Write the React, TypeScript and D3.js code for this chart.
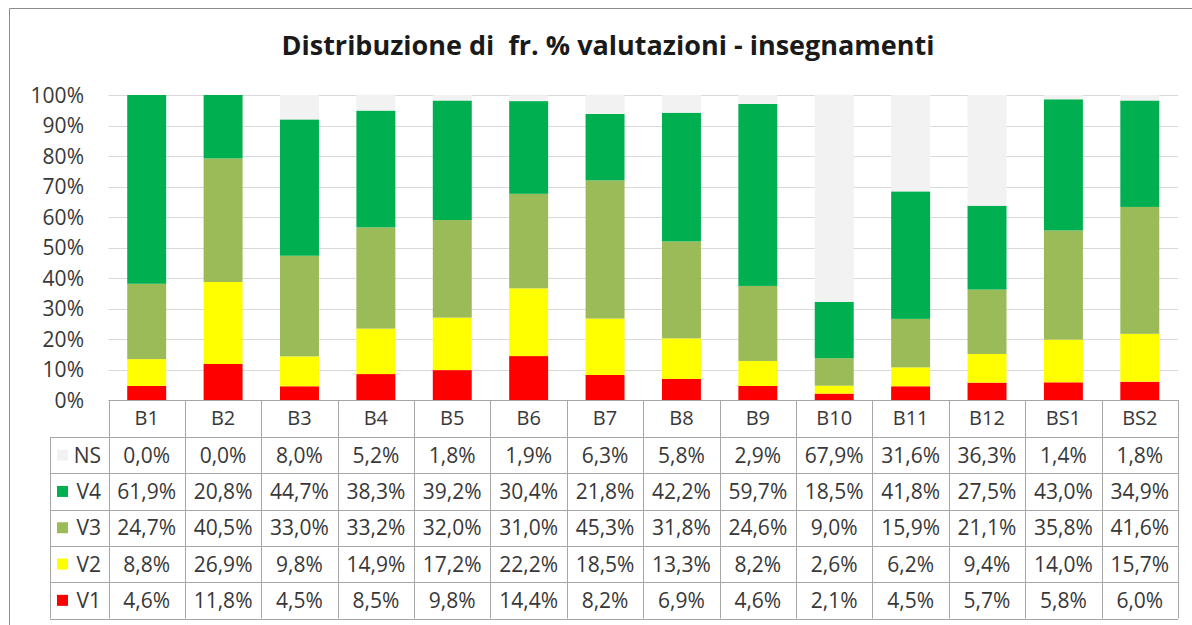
import React from 'react'
import { scaleBand, scaleLinear, stack, range } from 'd3'

const categories = ['B1', 'B2', 'B3', 'B4', 'B5', 'B6', 'B7', 'B8', 'B9', 'B10', 'B11', 'B12', 'BS1', 'BS2']

const v1 = [4.6, 11.8, 4.5, 8.5, 9.8, 14.4, 8.2, 6.9, 4.6, 2.1, 4.5, 5.7, 5.8, 6.0]
const v2 = [8.8, 26.9, 9.8, 14.9, 17.2, 22.2, 18.5, 13.3, 8.2, 2.6, 6.2, 9.4, 14.0, 15.7]
const v3 = [24.7, 40.5, 33.0, 33.2, 32.0, 31.0, 45.3, 31.8, 24.6, 9.0, 15.9, 21.1, 35.8, 41.6]
const v4 = [61.9, 20.8, 44.7, 38.3, 39.2, 30.4, 21.8, 42.2, 59.7, 18.5, 41.8, 27.5, 43.0, 34.9]
const ns = [0.0, 0.0, 8.0, 5.2, 1.8, 1.9, 6.3, 5.8, 2.9, 67.9, 31.6, 36.3, 1.4, 1.8]

const seriesKeys = ['V1', 'V2', 'V3', 'V4', 'NS']
const tableOrder = ['NS', 'V4', 'V3', 'V2', 'V1']
const yTicks = [0, 10, 20, 30, 40, 50, 60, 70, 80, 90, 100]

const colors: Record<string, string> = {
  V1: '#ff0000',
  V2: '#ffff00',
  V3: '#9bbb59',
  V4: '#00b050',
  NS: '#f2f2f2',
}

const valuesByKey: Record<string, number[]> = { V1: v1, V2: v2, V3: v3, V4: v4, NS: ns }

const rows = categories.map((c, i) => ({
  cat: c,
  V1: v1[i],
  V2: v2[i],
  V3: v3[i],
  V4: v4[i],
  NS: ns[i],
}))

const fmt = (v: number) => v.toFixed(1).replace('.', ',') + '%'

const W = 1192
const H = 625
const FONT = "'Open Sans', 'DejaVu Sans', sans-serif"
const TXT = '#383838'

export default function App() {
  const left = 108.5
  const right = 1178
  const top = 95
  const bottom = 400
  const tableTop = 437
  const rowH = 36.3
  const legendLeft = 50

  const x = scaleBand<string>().domain(categories).range([left, right]).padding(0)
  const xBar = scaleBand<string>().domain(categories).range([left, right]).paddingInner(0.49).paddingOuter(0.245)
  const y = scaleLinear().domain([0, 100]).range([bottom, top])

  const stacked = stack<any>().keys(seriesKeys)(rows)
  const tableBottom = tableTop + rowH * tableOrder.length

  return (
    <svg width={W} height={H} style={{ position: 'absolute', left: 0, top: 0, background: '#fff' }}>
      <rect x={0} y={0} width={W} height={H} fill="#fff" />
      {/* chart frame, cropped on the right and bottom */}
      <line x1={9.5} x2={W} y1={8.5} y2={8.5} stroke="#8c8c8c" />
      <line x1={9.5} x2={9.5} y1={8.5} y2={H} stroke="#8c8c8c" />

      <text x={608} y={55} textAnchor="middle" fontFamily={FONT} fontWeight="bold" fontSize={27} fill="#1a1a1a" style={{ whiteSpace: 'pre' }}>
        {'Distribuzione di  fr. % valutazioni - insegnamenti'}
      </text>

      {/* grid */}
      {yTicks.map(t => (
        <g key={t}>
          {t > 0 && <line x1={left} x2={right} y1={Math.round(y(t)) + 0.5} y2={Math.round(y(t)) + 0.5} stroke="#d9d9d9" />}
          <text x={84} y={y(t) + 7.5} textAnchor="end" fontFamily={FONT} fontSize={21} fill={TXT}>
            {t}%
          </text>
        </g>
      ))}

      {/* bars */}
      {stacked.map(s => (
        <g key={s.key} fill={colors[s.key]}>
          {s.map((d, i) => (
            <rect key={i} x={xBar(categories[i])} width={xBar.bandwidth()} y={y(d[1])} height={Math.max(0, y(d[0]) - y(d[1]))} />
          ))}
        </g>
      ))}

      {/* category row */}
      <line x1={left} x2={right} y1={bottom + 0.5} y2={bottom + 0.5} stroke="#a6a6a6" />
      {categories.map(c => (
        <text key={c} x={(x(c) as number) + x.bandwidth() / 2} y={425} textAnchor="middle" fontFamily={FONT} fontSize={20} fill={TXT}>
          {c}
        </text>
      ))}
      {range(categories.length + 1).map(i => {
        const xx = Math.round(left + i * x.bandwidth()) + 0.5
        return <line key={i} x1={xx} x2={xx} y1={bottom} y2={tableBottom} stroke="#a6a6a6" />
      })}

      {/* data table */}
      <line x1={legendLeft + 0.5} x2={legendLeft + 0.5} y1={tableTop} y2={tableBottom} stroke="#a6a6a6" />
      {range(tableOrder.length + 1).map(i => {
        const yy = Math.round(tableTop + i * rowH) + 0.5
        return <line key={i} x1={legendLeft} x2={right} y1={yy} y2={yy} stroke="#a6a6a6" />
      })}
      {tableOrder.map((k, r) => {
        const cy = tableTop + r * rowH + rowH / 2
        return (
          <g key={k}>
            <rect x={57} y={cy - 5.5} width={11} height={11} fill={colors[k]} />
            <text x={101} y={cy + 7.5} textAnchor="end" fontFamily={FONT} fontSize={21} fill={TXT}>
              {k}
            </text>
            {valuesByKey[k].map((v, i) => (
              <text key={i} x={(x(categories[i]) as number) + x.bandwidth() / 2} y={cy + 7.5} textAnchor="middle" fontFamily={FONT} fontSize={21} fill={TXT}>
                {fmt(v)}
              </text>
            ))}
          </g>
        )
      })}
    </svg>
  )
}
